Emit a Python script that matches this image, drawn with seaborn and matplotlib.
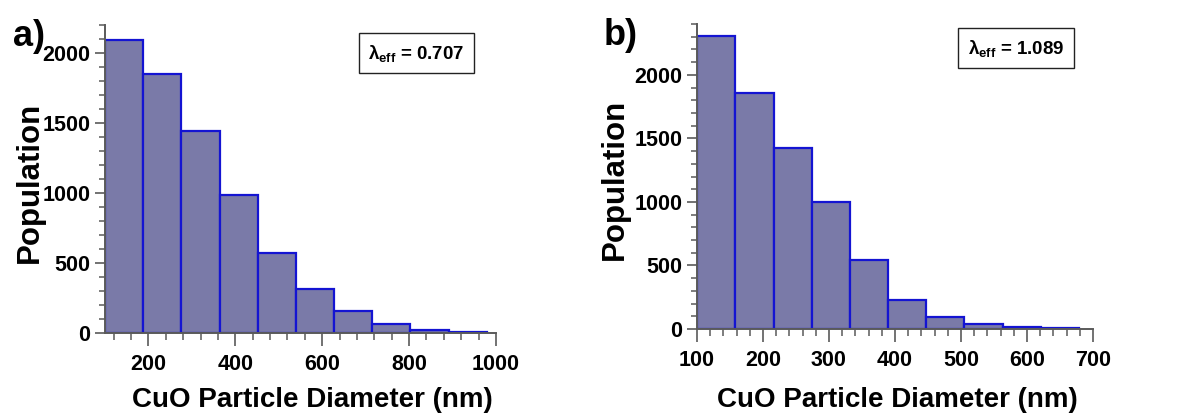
import numpy as np
import pandas as pd
import seaborn as sns
import matplotlib.pyplot as plt
from matplotlib.ticker import MultipleLocator

# Bin edges (nm) and counts
edges_a = [100, 188, 276, 364, 452, 540, 627, 715, 803, 891, 979]
counts_a = [2095, 1852, 1445, 986, 571, 314, 157, 64, 24, 10]
lambda_a = "0.707"

edges_b = [100, 158, 216, 274, 332, 389, 447, 505, 563, 621, 679]
counts_b = [2308, 1856, 1426, 997, 543, 230, 97, 42, 13, 5]
lambda_b = "1.089"

sns.set_style("ticks")
plt.rcParams["font.family"] = ["Liberation Sans", "DejaVu Sans"]
plt.rcParams["font.weight"] = "bold"
plt.rcParams["text.color"] = "black"
plt.rcParams["axes.labelcolor"] = "black"
plt.rcParams["mathtext.fontset"] = "custom"
plt.rcParams["mathtext.rm"] = "Liberation Sans:bold"
plt.rcParams["mathtext.it"] = "Liberation Sans:bold"
plt.rcParams["mathtext.bf"] = "Liberation Sans:bold"

FILL = "#7a7aa8"
EDGE = "#1414d2"
AXCOL = "#5a5a5a"


def draw_panel(ax, edges, counts, xlim, ylim, xmajor, xminor, letter, lam,
               box_xy, xlabel_xy, ylabel_x):
    edges = np.asarray(edges, dtype=float)
    df = pd.DataFrame({"diam": (edges[:-1] + edges[1:]) / 2, "n": counts})
    sns.histplot(data=df, x="diam", weights="n", bins=list(edges), ax=ax,
                 color=FILL, edgecolor=EDGE, linewidth=1.6, alpha=1.0)
    ax.set_xlim(*xlim)
    ax.set_ylim(*ylim)
    ax.xaxis.set_major_locator(MultipleLocator(xmajor))
    ax.xaxis.set_minor_locator(MultipleLocator(xminor))
    ax.yaxis.set_major_locator(MultipleLocator(500))
    ax.yaxis.set_minor_locator(MultipleLocator(100))
    sns.despine(ax=ax)
    for side in ("left", "bottom"):
        ax.spines[side].set_color(AXCOL)
        ax.spines[side].set_linewidth(1.4)
    ax.tick_params(which="major", direction="out", length=7.5, width=1.2,
                   color=AXCOL, labelcolor="black", labelsize=15.5, pad=3)
    ax.tick_params(which="minor", direction="out", length=4.5, width=1.1, color=AXCOL)
    ax.tick_params(axis="x", which="major", length=9, pad=6)
    ax.tick_params(axis="x", which="minor", length=5)
    for lab in ax.get_xticklabels() + ax.get_yticklabels():
        lab.set_fontweight("bold")
    ax.set_xlabel("CuO Particle Diameter (nm)", fontsize=20, fontweight="bold")
    ax.set_ylabel("Population", fontsize=22.5, fontweight="bold")
    ax.xaxis.set_label_coords(*xlabel_xy)
    ax.yaxis.set_label_coords(ylabel_x, 0.49)
    # effective lambda box
    ax.text(box_xy[0], box_xy[1], r"$\lambda_{eff}$ = " + lam, transform=ax.transAxes,
            ha="center", va="center", fontsize=13.5, fontweight="bold",
            bbox=dict(boxstyle="square,pad=0.5", facecolor="white",
                      edgecolor="#222222", linewidth=1.0))
    ax.text(-0.235, 1.02, letter, transform=ax.transAxes, ha="left", va="top",
            fontsize=26, fontweight="bold")


fig = plt.figure(figsize=(11.92, 4.16), dpi=100)
ax_a = fig.add_axes([0.0881, 0.1995, 0.328, 0.7404])
ax_b = fig.add_axes([0.5847, 0.2091, 0.3322, 0.7332])

draw_panel(ax_a, edges_a, counts_a, (100, 1000), (0, 2200), 200, 40,
           "a)", lambda_a, (0.797, 0.909), (0.53, -0.176), -0.155)
draw_panel(ax_b, edges_b, counts_b, (100, 700), (0, 2400), 100, 20,
           "b)", lambda_b, (0.806, 0.921), (0.505, -0.19), -0.17)

fig.savefig("out.png", dpi=100)
